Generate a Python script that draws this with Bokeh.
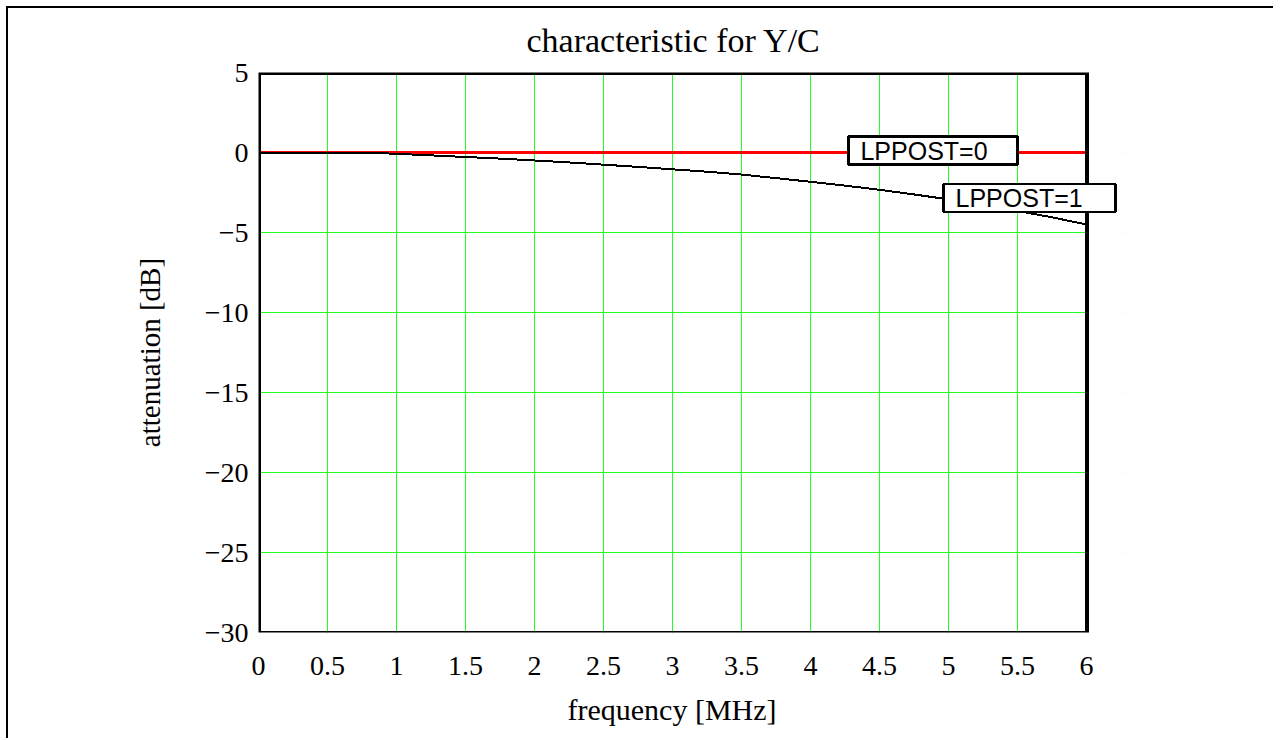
from bokeh.plotting import figure
from bokeh.models import Label, FixedTicker, Range1d, BoxAnnotation, Title
from bokeh.embed import file_html
from bokeh.resources import INLINE

# ---- data ----
freq = [0.0, 0.25, 0.5, 0.75, 1.0, 1.25, 1.5, 1.75, 2.0, 2.25, 2.5, 2.75, 3.0,
        3.25, 3.5, 3.75, 4.0, 4.25, 4.5, 4.75, 5.0, 5.25, 5.5, 5.75, 6.0]
lppost0 = [0.0] * len(freq)
lppost1 = [0.0, 0.0, 0.0, 0.0, -0.08, -0.18, -0.28, -0.38, -0.5, -0.62, -0.76, -0.9, -1.05,
           -1.2, -1.38, -1.6, -1.83, -2.07, -2.33, -2.62, -2.93, -3.27, -3.65, -4.05, -4.5]
x_ticks = [0, 0.5, 1, 1.5, 2, 2.5, 3, 3.5, 4, 4.5, 5, 5.5, 6]
x_tick_labels = ["0", "0.5", "1", "1.5", "2", "2.5", "3", "3.5", "4", "4.5", "5", "5.5", "6"]
y_ticks = [-30, -25, -20, -15, -10, -5, 0, 5]
y_tick_labels = ["\u221230", "\u221225", "\u221220", "\u221215", "\u221210", "\u22125", "0", "5"]
x_min, x_max = 0, 6
y_min, y_max = -30, 5

# frame extends a little past 6 MHz so the LPPOST=1 label can overhang the plot box
p = figure(width=1267, height=732, output_backend="svg", toolbar_location=None,
           x_range=Range1d(0, 6.26087), y_range=Range1d(y_min, y_max),
           min_border_left=250, min_border_right=153, min_border_top=64, min_border_bottom=108)

title = Title(text="characteristic for Y/C", align="left", offset=268,
              text_font="Liberation Serif", text_font_size="34px",
              text_font_style="normal", text_color="black",
              vertical_align="top", standoff=23)
p.add_layout(title, "above")

p.outline_line_color = None

p.xaxis.ticker = FixedTicker(ticks=x_ticks)
p.yaxis.ticker = FixedTicker(ticks=y_ticks)
p.xaxis.major_label_overrides = {t: l for t, l in zip(x_ticks, x_tick_labels)}
p.yaxis.major_label_overrides = {t: l for t, l in zip(y_ticks, y_tick_labels)}

for ax in (p.xaxis, p.yaxis):
    ax.axis_line_color = None
    ax.major_tick_line_color = None
    ax.minor_tick_line_color = None
    ax.major_tick_out = 0
    ax.major_tick_in = 0
    ax.minor_tick_out = 0
    ax.major_label_text_font = "Liberation Serif"
    ax.major_label_text_font_size = "28px"
    ax.major_label_text_color = "black"
    ax.axis_label_text_font = "Liberation Serif"
    ax.axis_label_text_font_size = "29px"
    ax.axis_label_text_font_style = "normal"
    ax.axis_label_text_color = "black"

p.yaxis.axis_label = "attenuation [dB]"
p.xaxis.major_label_standoff = 24
p.yaxis.major_label_standoff = 10
p.yaxis.axis_label_standoff = 36

xlab = Title(text="frequency [MHz]", align="left", offset=309,
             text_font="Liberation Serif", text_font_size="30px",
             text_font_style="normal", text_color="black", standoff=26)
p.add_layout(xlab, "below")

p.xgrid.grid_line_color = "#22ff22"
p.ygrid.grid_line_color = "#22ff22"
p.xgrid.grid_line_width = 1
p.ygrid.grid_line_width = 1

p.line(freq, lppost0, line_color="#ff0000", line_width=3)
p.line(freq, lppost1, line_color="black", line_width=2)

# blank out the extra strip right of 6 MHz, then draw the plot box
p.add_layout(BoxAnnotation(left=x_max, fill_color="white", fill_alpha=1.0,
                           line_color=None, level="annotation"))
p.add_layout(BoxAnnotation(left=x_min, right=x_max, bottom=y_min, top=y_max,
                           fill_alpha=0, line_color="black", line_alpha=1.0,
                           line_width=4, level="annotation"))

lab0 = Label(x=4.275, y=0.125, text="LPPOST=0", text_font="Liberation Sans",
             text_font_size="25px", text_baseline="middle", text_align="left",
             text_color="black",
             border_line_color="black", border_line_width=2.5,
             background_fill_color="white",
             padding=dict(left=12, right=30, top=0, bottom=0))
lab1 = Label(x=4.964, y=-2.84, text="LPPOST=1", text_font="Liberation Sans",
             text_font_size="25px", text_baseline="middle", text_align="left",
             text_color="black",
             border_line_color="black", border_line_width=2.5,
             background_fill_color="white",
             padding=dict(left=12, right=33, top=0, bottom=0))
p.add_layout(lab0)
p.add_layout(lab1)

p.styles = {"border-left": "2px solid black", "border-top": "2px solid black",
            "margin-left": "6px", "margin-top": "6px",
            "shape-rendering": "crispEdges"}

open("out.html", "w").write(file_html(p, INLINE))
